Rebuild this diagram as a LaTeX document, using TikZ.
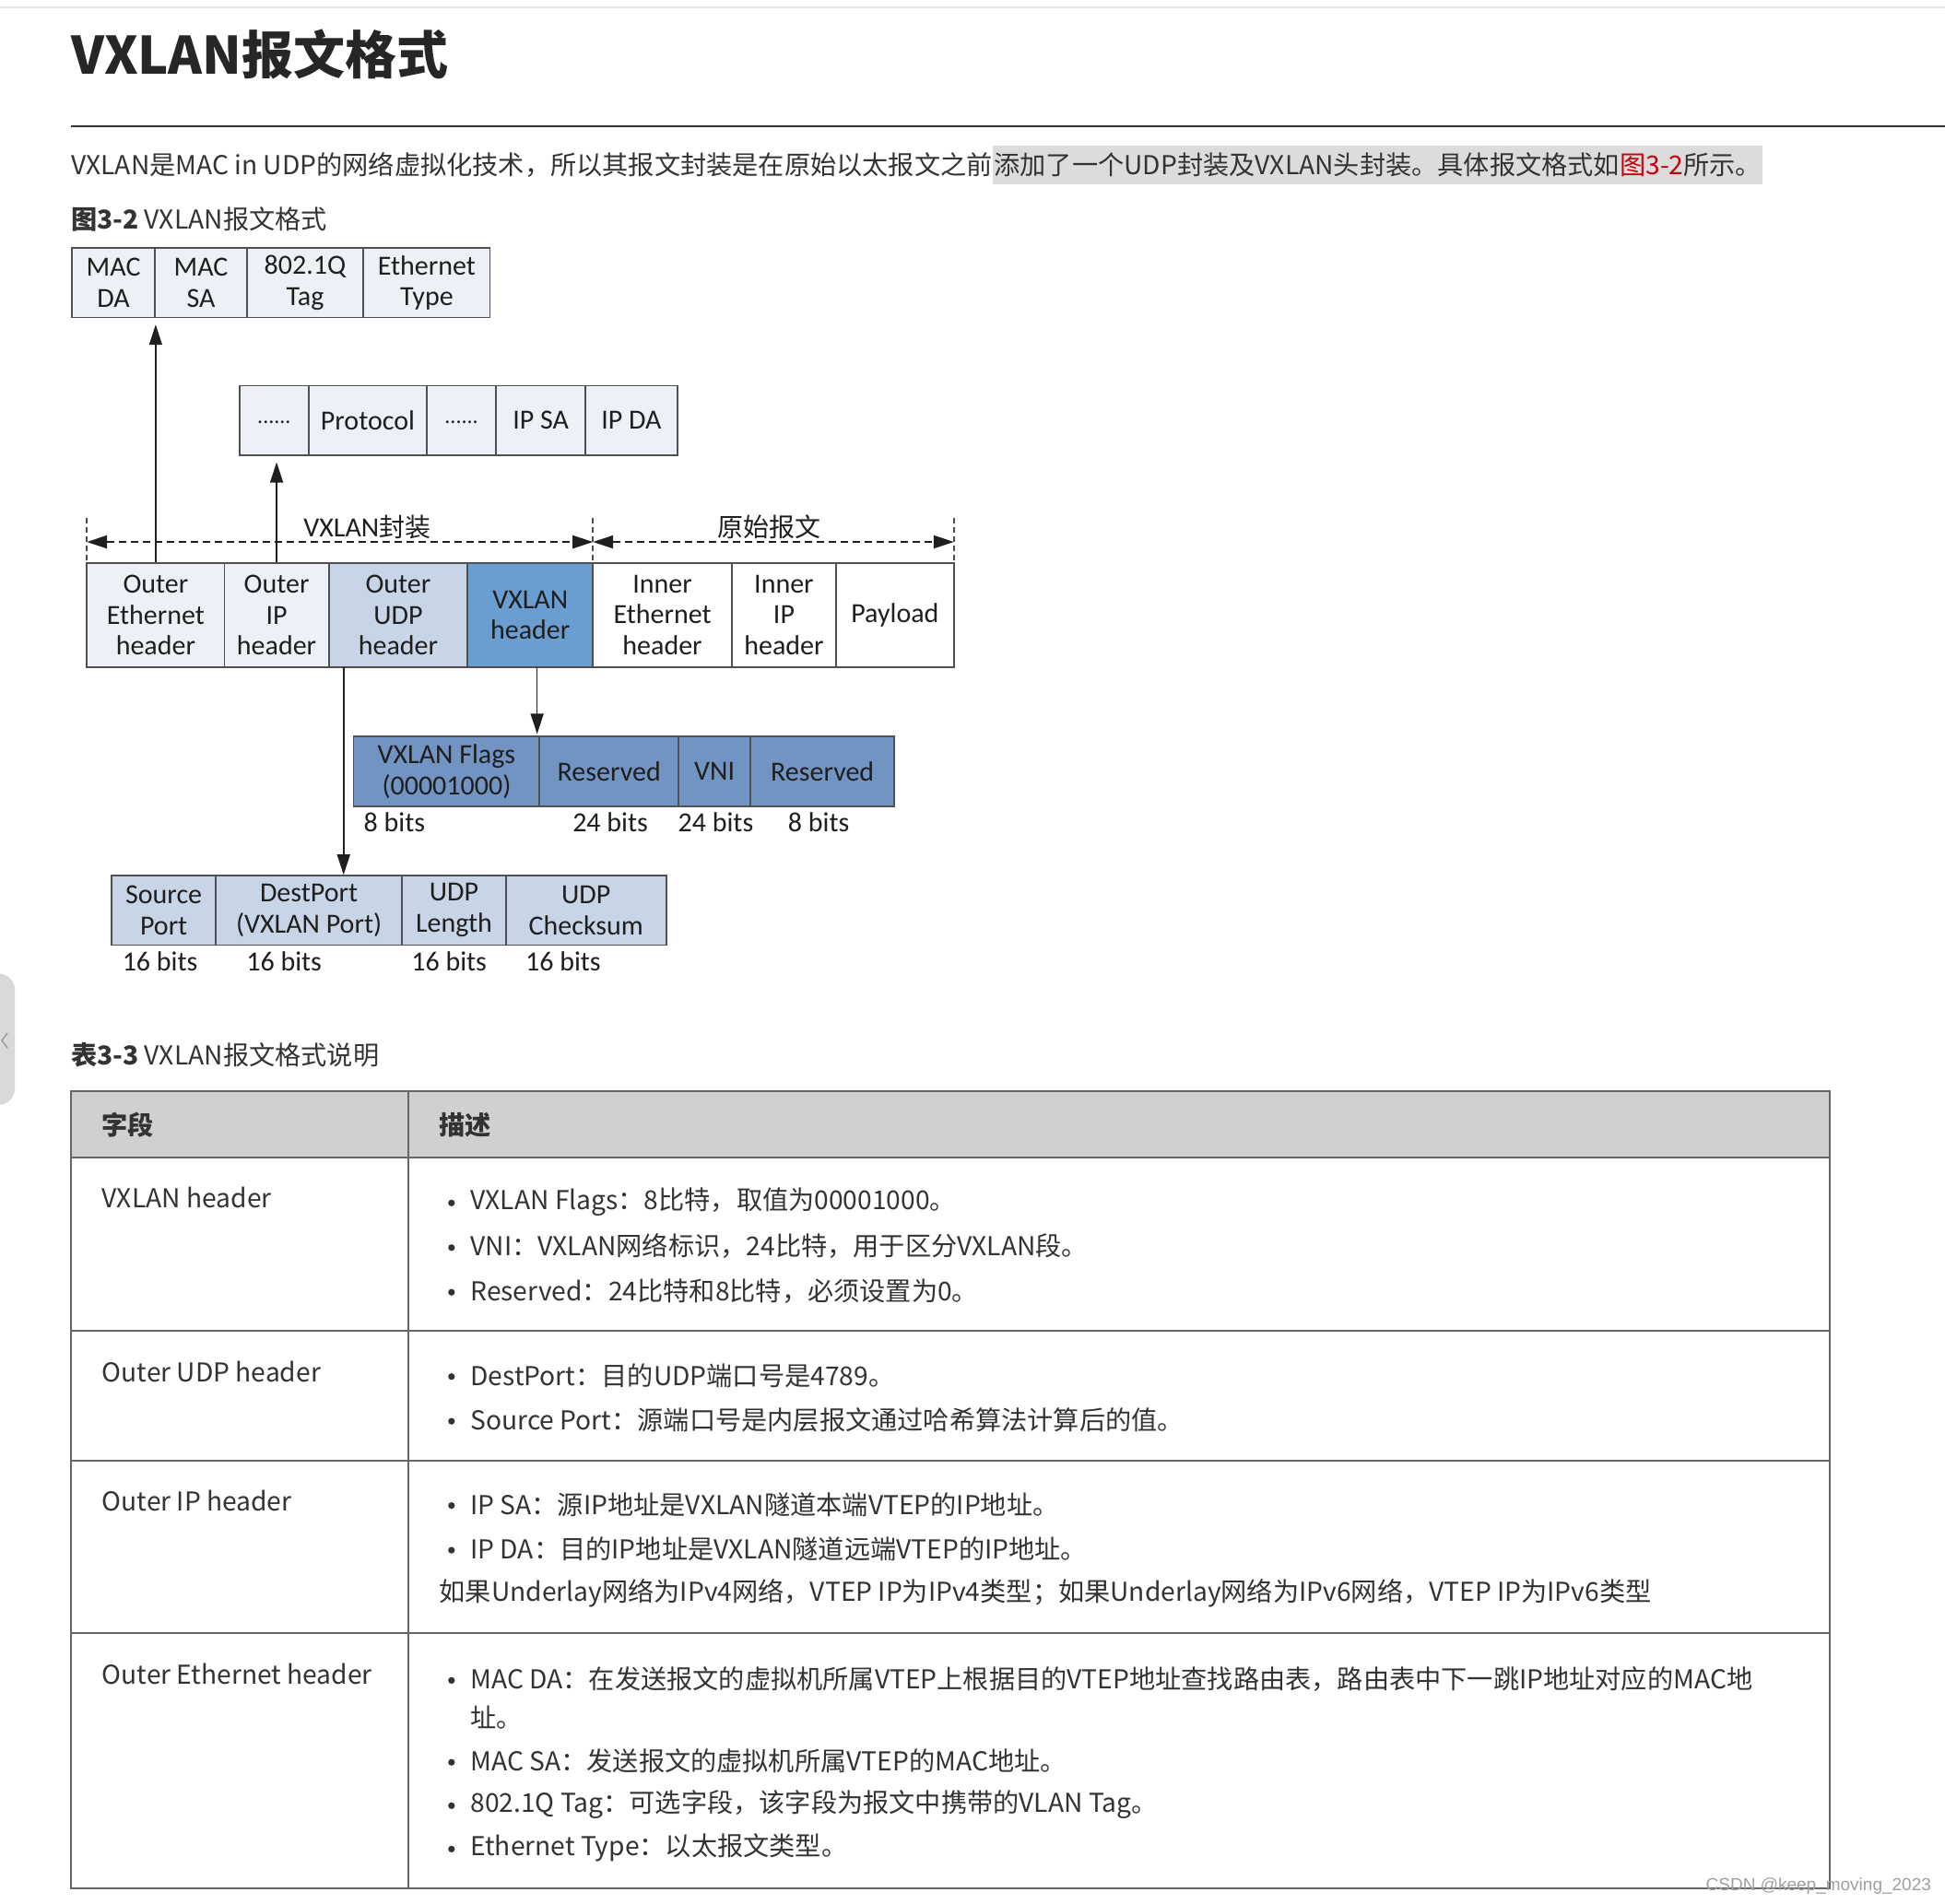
\documentclass[tikz,border=0pt]{standalone}
\usepackage{fontspec}
\setmainfont{Noto Sans CJK SC}
\newfontfamily\diafont{Carlito}
\newfontfamily\wmfont{Liberation Sans}
\usetikzlibrary{arrows.meta}
\definecolor{txt}{HTML}{333333}
\definecolor{diatxt}{HTML}{1F1F1F}
\definecolor{boxline}{HTML}{505050}
\definecolor{lightfill}{HTML}{EDF1F7}
\definecolor{udpfill}{HTML}{C8D5E7}
\definecolor{vxfill}{HTML}{6A9ED1}
\definecolor{vxsub}{HTML}{7294C3}
\definecolor{tblline}{HTML}{666666}
\definecolor{tblhead}{HTML}{D0D0D0}
\definecolor{hl}{HTML}{DCDCDC}
\definecolor{linkred}{HTML}{C7000B}
\definecolor{tabgray}{HTML}{D9D9D9}
\definecolor{wmgray}{HTML}{A0A0A0}
\definecolor{topline}{HTML}{E6E6E6}
\definecolor{rulecol}{HTML}{333333}
\newcommand\vxcell[7]{%
  \node[cell,fill=#6,minimum width={(#4-#2)*0.67285pt},minimum height={(#5-#3)*0.67285pt}] (#1) at ({(#2+#4)/2},{(#3+#5)/2}) {#7};}
\begin{document}
\begin{tikzpicture}[x=0.67285pt,y=-0.67285pt,
  cell/.style={draw=boxline,line width=0.9pt,inner sep=0pt,align=center,text=diatxt,font=\diafont\fontsize{15}{16.8}\selectfont},
  bitlbl/.style={inner sep=0pt,text=diatxt,font=\diafont\fontsize{15}{16.8}\selectfont},
  conn/.style={draw=diatxt,line width=0.8pt,-{Triangle[length=11pt,width=7pt]}},
  dimline/.style={draw=diatxt,line width=1.1pt,dash pattern=on 4pt off 2.5pt,{Triangle[length=11pt,width=7pt]}-{Triangle[length=11pt,width=7pt]}},
  vtick/.style={draw=diatxt!80,line width=0.8pt,dash pattern=on 3pt off 2pt},
  bodytxt/.style={inner sep=0pt,anchor=west,text=txt,font=\fontsize{14.1}{17}\selectfont},
  tbl/.style={draw=tblline,line width=1pt},
  cjklabel/.style={inner sep=0pt,text=diatxt,font=\fontsize{14}{17}\selectfont}
]
\useasboundingbox (0,0) rectangle (1568,1535);
\fill[white] (0,0) rectangle (1568,1535);
% page furniture
\draw[topline,line width=1pt] (0,6) -- (1568,6);
\node[anchor=west,inner sep=0pt,text=black!85,font=\bfseries\fontsize{28}{32}\selectfont] (title) at (57,44) {VXLAN报文格式};
\draw[rulecol,line width=1pt] (57,102) -- (1568,102);
\node[bodytxt] (p1) at (57,133) {VXLAN是MAC in UDP的网络虚拟化技术，所以其报文封装是在原始以太报文之前};
\node[anchor=base west,inner xsep=0.5pt,inner ysep=0pt,minimum height=20.9pt,fill=hl,text=txt,font=\fontsize{14.1}{17}\selectfont] (p2) at (p1.base east) {添加了一个UDP封装及VXLAN头封装。具体报文格式如\textcolor{linkred}{图3-2}所示。};
\node[bodytxt] (cap1) at (57,177) {\textbf{图3-2} VXLAN报文格式};
% left tab
\fill[tabgray,rounded corners=9pt] (-20,785) rectangle (12,891);
\draw[gray!80,line width=0.7pt] (6,833) -- (1.5,839) -- (6,845);

% ---------- diagram ----------
\vxcell{macda}{58}{200}{125}{256}{lightfill}{MAC\\DA}
\vxcell{macsa}{125}{200}{199}{256}{lightfill}{MAC\\SA}
\vxcell{dotq}{199}{200}{293}{256}{lightfill}{802.1Q\\Tag}
\vxcell{etype}{293}{200}{395}{256}{lightfill}{Ethernet\\Type}

\vxcell{ipdA}{193}{311}{249}{367}{lightfill}{\raisebox{-3pt}{\fontsize{12}{14}\selectfont ......}}
\vxcell{proto}{249}{311}{344}{367}{lightfill}{Protocol}
\vxcell{ipdB}{344}{311}{400}{367}{lightfill}{\raisebox{-3pt}{\fontsize{12}{14}\selectfont ......}}
\vxcell{ipsa}{400}{311}{472}{367}{lightfill}{IP SA}
\vxcell{ipda}{472}{311}{546}{367}{lightfill}{IP DA}

\vxcell{oeth}{70}{454}{181}{538}{lightfill}{Outer\\Ethernet\\header}
\vxcell{oip}{181}{454}{265}{538}{lightfill}{Outer\\IP\\header}
\vxcell{oudp}{265}{454}{377}{538}{udpfill}{Outer\\UDP\\header}
\vxcell{vxh}{377}{454}{478}{538}{vxfill}{VXLAN\\header}
\vxcell{ieth}{478}{454}{590}{538}{white}{Inner\\Ethernet\\header}
\vxcell{iip}{590}{454}{674}{538}{white}{Inner\\IP\\header}
\vxcell{pay}{674}{454}{769}{538}{white}{Payload}

\vxcell{flags}{285}{594}{435}{650}{vxsub}{VXLAN Flags\\(00001000)}
\vxcell{resA}{435}{594}{547}{650}{vxsub}{Reserved}
\vxcell{vni}{547}{594}{605}{650}{vxsub}{VNI}
\vxcell{resB}{605}{594}{721}{650}{vxsub}{Reserved}

\vxcell{sport}{90}{706}{174}{762}{udpfill}{Source\\Port}
\vxcell{dport}{174}{706}{324}{762}{udpfill}{DestPort\\(VXLAN Port)}
\vxcell{ulen}{324}{706}{408}{762}{udpfill}{UDP\\Length}
\vxcell{csum}{408}{706}{537}{762}{udpfill}{UDP\\Checksum}

\node[bitlbl,anchor=west] (bA) at (293,663) {8 bits};
\node[bitlbl] (bB) at (492,663) {24 bits};
\node[bitlbl] (bC) at (577,663) {24 bits};
\node[bitlbl] (bD) at (660,663) {8 bits};
\node[bitlbl] (uA) at (129,775) {16 bits};
\node[bitlbl] (uB) at (229,775) {16 bits};
\node[bitlbl] (uC) at (362,775) {16 bits};
\node[bitlbl] (uD) at (454,775) {16 bits};

% dimension lines
\draw[vtick] (70,418) -- (70,452);
\draw[vtick] (478,418) -- (478,452);
\draw[vtick] (769,418) -- (769,452);
\coordinate (dL) at (70,437);
\coordinate (dM) at (478,437);
\coordinate (dR) at (769,437);
\draw[dimline] (dL) -- (dM);
\draw[dimline] (dM) -- (dR);
\node[cjklabel] (lblenc) at (296,425) {{\diafont\fontsize{15}{17}\selectfont VXLAN}封装};
\node[cjklabel] (lblorig) at (620,425) {原始报文};

% connectors
\draw[conn,shorten >=3.4pt] (oeth.north) -- (oeth.north |- macda.south);
\draw[conn,shorten >=3.4pt] (oip.north) -- (oip.north |- ipdA.south);
\coordinate (udpsrc) at (277,538);
\coordinate (vxsrc) at (433,538);
\draw[conn] (udpsrc) -- (udpsrc |- dport.north);
\draw[conn,shorten >=1pt] (vxsrc) -- (vxsrc |- flags.north);

% ---------- table ----------
\node[bodytxt] (cap2) at (57,851) {\textbf{表3-3} VXLAN报文格式说明};
\fill[tblhead] (57,880) rectangle (1475,933);
\draw[tbl] (57,880) rectangle (1475,1523);
\draw[tbl] (57,933) -- (1475,933);
\draw[tbl] (57,1073) -- (1475,1073);
\draw[tbl] (57,1178) -- (1475,1178);
\draw[tbl] (57,1317) -- (1475,1317);
\draw[tbl] (329,880) -- (329,1523);

\node[bodytxt,font=\bfseries\fontsize{14.1}{17}\selectfont] (hA) at (82,907) {字段};
\node[bodytxt,font=\bfseries\fontsize{14.1}{17}\selectfont] (hB) at (354,907) {描述};

\node[bodytxt] (fA) at (82,966) {VXLAN header};
\node[bodytxt] (fB) at (82,1106) {Outer UDP header};
\node[bodytxt] (fC) at (82,1210) {Outer IP header};
\node[bodytxt] (fD) at (82,1350) {Outer Ethernet header};

\foreach \yy in {970,1006,1042,1110,1146,1214,1250,1355,1421,1456,1491}
  \fill[txt] (364,\yy) circle[radius=2.7];

\node[bodytxt] (dA1) at (379,969) {VXLAN Flags：8比特，取值为00001000。};
\node[bodytxt] (dA2) at (379,1005) {VNI：VXLAN网络标识，24比特，用于区分VXLAN段。};
\node[bodytxt] (dA3) at (379,1041) {Reserved：24比特和8比特，必须设置为0。};
\node[bodytxt] (dB1) at (379,1109) {DestPort：目的UDP端口号是4789。};
\node[bodytxt] (dB2) at (379,1145) {Source Port：源端口号是内层报文通过哈希算法计算后的值。};
\node[bodytxt] (dC1) at (379,1213) {IP SA：源IP地址是VXLAN隧道本端VTEP的IP地址。};
\node[bodytxt] (dC2) at (379,1249) {IP DA：目的IP地址是VXLAN隧道远端VTEP的IP地址。};
\node[bodytxt] (dC3) at (354,1285) {如果Underlay网络为IPv4网络，VTEP IP为IPv4类型；如果Underlay网络为IPv6网络，VTEP IP为IPv6类型};
\node[bodytxt] (dD1) at (379,1354) {MAC DA：在发送报文的虚拟机所属VTEP上根据目的VTEP地址查找路由表，路由表中下一跳IP地址对应的MAC地};
\node[bodytxt] (dD1b) at (379,1385) {址。};
\node[bodytxt] (dD2) at (379,1420) {MAC SA：发送报文的虚拟机所属VTEP的MAC地址。};
\node[bodytxt] (dD3) at (379,1455) {802.1Q Tag：可选字段，该字段为报文中携带的VLAN Tag。};
\node[bodytxt] (dD4) at (379,1490) {Ethernet Type：以太报文类型。};

\node[anchor=west,inner sep=0pt,text=wmgray,font=\wmfont\fontsize{9.5}{11}\selectfont] (wm) at (1375,1521) {CSDN @keep\_moving\_2023};
\end{tikzpicture}
\end{document}
